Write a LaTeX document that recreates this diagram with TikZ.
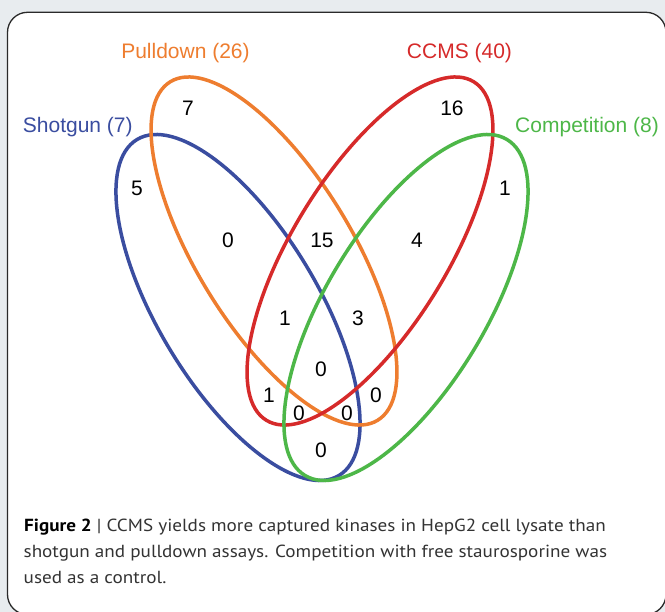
\documentclass[tikz,border=0pt]{standalone}
\usepackage{fontspec}
\setmainfont{Liberation Sans}
\newfontfamily\capfont[FakeStretch=1.094]{PT Sans}
\definecolor{bggrey}{HTML}{E8ECEF}
\definecolor{framecol}{HTML}{2A2A2A}
\definecolor{vblue}{HTML}{3A4DA0}
\definecolor{vorange}{HTML}{EE7D2F}
\definecolor{vred}{HTML}{D62A2A}
\definecolor{vgreen}{HTML}{4DB748}
\definecolor{captext}{HTML}{333333}
\tikzset{
  venn/.style={line width=3.5pt},
  setlabel/.style={font=\fontsize{21pt}{24pt}\selectfont, inner sep=0pt, anchor=base},
  count/.style={font=\fontsize{21pt}{24pt}\selectfont, inner sep=0pt, text=black},
  capline/.style={font=\capfont\fontsize{17.5pt}{26pt}\selectfont, text=captext, inner sep=0pt, anchor=base west}
}
\begin{document}
\begin{tikzpicture}[x=1pt,y=-1pt]
\useasboundingbox (0,0) rectangle (665,612);
\clip (0,0) rectangle (665,612);
\fill[bggrey] (0,0) rectangle (665,612);
\draw[line width=1.3pt, draw=framecol, fill=white, rounded corners=20pt] (7.5,12.3) rectangle (666,614.5);

% ellipses
\draw[venn, draw=vblue, shift={(238,307.5)}, rotate=-59] (0,0) ellipse (196pt and 80pt);
\draw[venn, draw=vorange, shift={(274,251)}, rotate=-58.5] (0,0) ellipse (198.5pt and 77.4pt);
\draw[venn, draw=vred, shift={(370,251)}, rotate=58.5] (0,0) ellipse (198.5pt and 77.4pt);
\draw[venn, draw=vgreen, shift={(406,307.5)}, rotate=59] (0,0) ellipse (196pt and 80pt);

% set labels
\node[setlabel, text=vorange] (lpull) at (185.5,59) {Pulldown (26)};
\node[setlabel, text=vred] (lccms) at (459.5,59) {CCMS (40)};
\node[setlabel, text=vblue, anchor=base west] (lshot) at (22.7,133) {Shotgun (7)};
\node[setlabel, text=vgreen, anchor=base east] (lcomp) at (659,133) {Competition (8)};

% counts
\node[count] (c1) at (188,108) {7};
\node[count] (c2) at (452,108) {16};
\node[count] (c3) at (137,188) {5};
\node[count] (c4) at (505,188) {1};
\node[count] (c5) at (228,240) {0};
\node[count] (c6) at (322,240) {15};
\node[count] (c7) at (417,240) {4};
\node[count] (c8) at (285,318) {1};
\node[count] (c9) at (358,318) {3};
\node[count] (c10) at (321,369) {0};
\node[count] (c11) at (269,395) {1};
\node[count] (c12) at (376,395) {0};
\node[count] (c13) at (299,413) {0};
\node[count] (c14) at (347,413) {0};
\node[count] (c15) at (321,450) {0};

% caption
\node[capline] (cap1) at (24,532) {{\bfseries\color{black}Figure 2} | CCMS yields more captured kinases in HepG2 cell lysate than};
\node[capline] (cap2) at (23.5,558) {shotgun and pulldown assays. Competition with free staurosporine was};
\node[capline] (cap3) at (23.5,584) {used as a control.};
\end{tikzpicture}
\end{document}
